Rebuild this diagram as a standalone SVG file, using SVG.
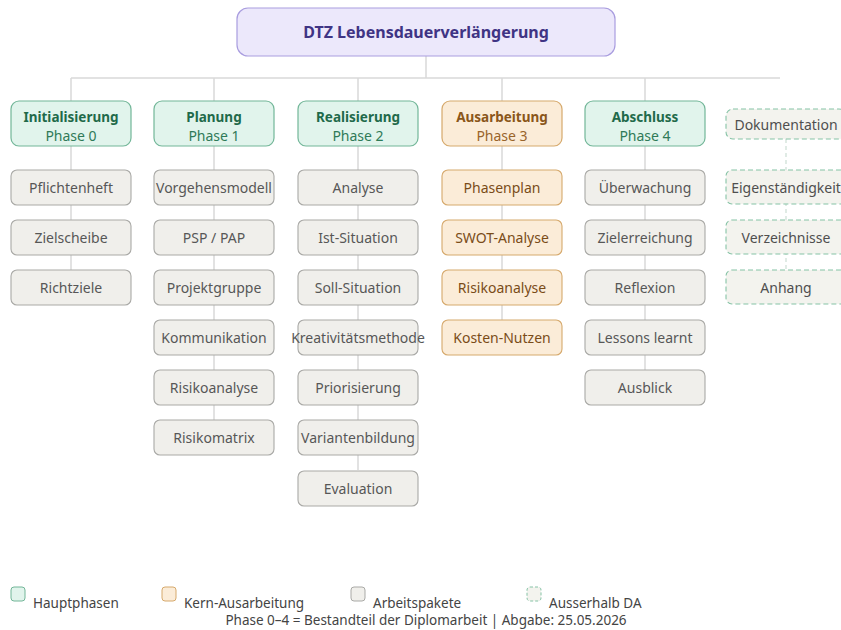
<svg xmlns="http://www.w3.org/2000/svg" width="841" height="630" viewBox="0 0 841 630">
<style>
text{font-family:"Noto Sans","Open Sans",sans-serif;text-anchor:middle;dominant-baseline:central}
.title{font-size:16px;font-weight:bold;fill:#3f3484}
.ph rect{fill:#e1f4ec;stroke:#72b698;stroke-width:1.2}
.ph .n{font-size:13.5px;font-weight:bold;fill:#1f6a4a}
.ph .p{font-size:14px;fill:#2f7a58}
.ka rect{fill:#fbecd8;stroke:#d6a96c;stroke-width:1.2}
.ka .n{font-size:13.5px;font-weight:bold;fill:#8a561a}
.ka .p{font-size:14px;fill:#99642a}
.wp rect{fill:#f0efeb;stroke:#a9a9a6;stroke-width:1.1}
.wp text{font-size:14px;fill:#575757}
.kp rect{fill:#fbecd8;stroke:#d6a96c;stroke-width:1.1}
.kp text{font-size:14px;fill:#7a4c18}
.ex rect{fill:#f3f3ee;stroke:#86c3a6;stroke-width:1.1;stroke-dasharray:5 3}
.ex text{font-size:14px;fill:#4f4f4f}
.con line{stroke:#d9d9d9;stroke-width:1.5}
.con .d{stroke:#d6e5dd;stroke-dasharray:4 3}
.leg text{font-size:13.5px;fill:#444;text-anchor:start;dominant-baseline:auto}
</style>
<rect width="841" height="630" fill="#ffffff"/>
<g id="connectors" class="con">
<line x1="426" y1="56" x2="426" y2="78"/>
<line x1="71" y1="78" x2="780" y2="78"/>
<line x1="71" y1="78" x2="71" y2="101"/>
<line x1="214" y1="78" x2="214" y2="101"/>
<line x1="358" y1="78" x2="358" y2="101"/>
<line x1="502" y1="78" x2="502" y2="101"/>
<line x1="645" y1="78" x2="645" y2="101"/>
<line x1="71" y1="146" x2="71" y2="270"/>
<line x1="214" y1="146" x2="214" y2="420"/>
<line x1="358" y1="146" x2="358" y2="470"/>
<line x1="502" y1="146" x2="502" y2="320"/>
<line x1="645" y1="146" x2="645" y2="370"/>
<line class="d" x1="786" y1="139" x2="786" y2="270"/>
</g>
<g id="root">
<rect x="237" y="8" width="378" height="48" rx="11" fill="#ece8fb" stroke="#a99ddf" stroke-width="1.2"/>
<text class="title" x="426" y="32">DTZ Lebensdauerverlängerung</text>
</g>
<g id="phase0" class="ph"><rect x="11" y="101" width="120" height="45" rx="8"/><text class="n" x="71" y="117">Initialisierung</text><text class="p" x="71" y="135">Phase 0</text></g>
<g id="phase1" class="ph"><rect x="154" y="101" width="120" height="45" rx="8"/><text class="n" x="214" y="117">Planung</text><text class="p" x="214" y="135">Phase 1</text></g>
<g id="phase2" class="ph"><rect x="298" y="101" width="120" height="45" rx="8"/><text class="n" x="358" y="117">Realisierung</text><text class="p" x="358" y="135">Phase 2</text></g>
<g id="phase3" class="ka"><rect x="442" y="101" width="120" height="45" rx="8"/><text class="n" x="502" y="117">Ausarbeitung</text><text class="p" x="502" y="135">Phase 3</text></g>
<g id="phase4" class="ph"><rect x="585" y="101" width="120" height="45" rx="8"/><text class="n" x="645" y="117">Abschluss</text><text class="p" x="645" y="135">Phase 4</text></g>
<g id="dokumentation" class="ex"><rect x="726" y="109" width="120" height="30" rx="7"/><text x="786" y="124">Dokumentation</text></g>

<g id="pflichtenheft" class="wp"><rect x="11" y="170" width="120" height="35" rx="6"/><text x="71" y="187">Pflichtenheft</text></g>
<g id="zielscheibe" class="wp"><rect x="11" y="220" width="120" height="35" rx="6"/><text x="71" y="237">Zielscheibe</text></g>
<g id="richtziele" class="wp"><rect x="11" y="270" width="120" height="35" rx="6"/><text x="71" y="287">Richtziele</text></g>

<g id="vorgehensmodell" class="wp"><rect x="154" y="170" width="120" height="35" rx="6"/><text x="214" y="187">Vorgehensmodell</text></g>
<g id="psp" class="wp"><rect x="154" y="220" width="120" height="35" rx="6"/><text x="214" y="237">PSP / PAP</text></g>
<g id="projektgruppe" class="wp"><rect x="154" y="270" width="120" height="35" rx="6"/><text x="214" y="287">Projektgruppe</text></g>
<g id="kommunikation" class="wp"><rect x="154" y="320" width="120" height="35" rx="6"/><text x="214" y="337">Kommunikation</text></g>
<g id="risikoanalyse1" class="wp"><rect x="154" y="370" width="120" height="35" rx="6"/><text x="214" y="387">Risikoanalyse</text></g>
<g id="risikomatrix" class="wp"><rect x="154" y="420" width="120" height="35" rx="6"/><text x="214" y="437">Risikomatrix</text></g>

<g id="analyse" class="wp"><rect x="298" y="170" width="120" height="35" rx="6"/><text x="358" y="187">Analyse</text></g>
<g id="ist" class="wp"><rect x="298" y="220" width="120" height="35" rx="6"/><text x="358" y="237">Ist-Situation</text></g>
<g id="soll" class="wp"><rect x="298" y="270" width="120" height="35" rx="6"/><text x="358" y="287">Soll-Situation</text></g>
<g id="kreativ" class="wp"><rect x="298" y="320" width="120" height="35" rx="6"/><text x="358" y="337">Kreativitätsmethode</text></g>
<g id="priorisierung" class="wp"><rect x="298" y="370" width="120" height="35" rx="6"/><text x="358" y="387">Priorisierung</text></g>
<g id="varianten" class="wp"><rect x="298" y="420" width="120" height="35" rx="6"/><text x="358" y="437">Variantenbildung</text></g>
<g id="evaluation" class="wp"><rect x="298" y="471" width="120" height="35" rx="6"/><text x="358" y="488">Evaluation</text></g>

<g id="phasenplan" class="kp"><rect x="442" y="170" width="120" height="35" rx="6"/><text x="502" y="187">Phasenplan</text></g>
<g id="swot" class="kp"><rect x="442" y="220" width="120" height="35" rx="6"/><text x="502" y="237">SWOT-Analyse</text></g>
<g id="risikoanalyse3" class="kp"><rect x="442" y="270" width="120" height="35" rx="6"/><text x="502" y="287">Risikoanalyse</text></g>
<g id="kosten" class="kp"><rect x="442" y="320" width="120" height="35" rx="6"/><text x="502" y="337">Kosten-Nutzen</text></g>

<g id="ueberwachung" class="wp"><rect x="585" y="170" width="120" height="35" rx="6"/><text x="645" y="187">Überwachung</text></g>
<g id="zielerreichung" class="wp"><rect x="585" y="220" width="120" height="35" rx="6"/><text x="645" y="237">Zielerreichung</text></g>
<g id="reflexion" class="wp"><rect x="585" y="270" width="120" height="35" rx="6"/><text x="645" y="287">Reflexion</text></g>
<g id="lessons" class="wp"><rect x="585" y="320" width="120" height="35" rx="6"/><text x="645" y="337">Lessons learnt</text></g>
<g id="ausblick" class="wp"><rect x="585" y="370" width="120" height="35" rx="6"/><text x="645" y="387">Ausblick</text></g>

<g id="eigenstaendigkeit" class="ex"><rect x="726" y="170" width="120" height="34" rx="6"/><text x="786" y="187">Eigenständigkeit</text></g>
<g id="verzeichnisse" class="ex"><rect x="726" y="220" width="120" height="34" rx="6"/><text x="786" y="237">Verzeichnisse</text></g>
<g id="anhang" class="ex"><rect x="726" y="270" width="120" height="34" rx="6"/><text x="786" y="287">Anhang</text></g>

<g id="legend" class="leg">
<rect x="11" y="587" width="14" height="14" rx="3" fill="#e1f4ec" stroke="#72b698"/>
<text x="33" y="608">Hauptphasen</text>
<rect x="162" y="587" width="14" height="14" rx="3" fill="#fbecd8" stroke="#d6a96c"/>
<text x="184" y="608">Kern-Ausarbeitung</text>
<rect x="351" y="587" width="14" height="14" rx="3" fill="#f0efeb" stroke="#a9a9a6"/>
<text x="373" y="608">Arbeitspakete</text>
<rect x="527" y="587" width="14" height="14" rx="3" fill="#f3f3ee" stroke="#86c3a6" stroke-dasharray="3 2"/>
<text x="549" y="608">Ausserhalb DA</text>
<text x="426" y="625" style="text-anchor:middle">Phase 0–4 = Bestandteil der Diplomarbeit | Abgabe: 25.05.2026</text>
</g>
</svg>
